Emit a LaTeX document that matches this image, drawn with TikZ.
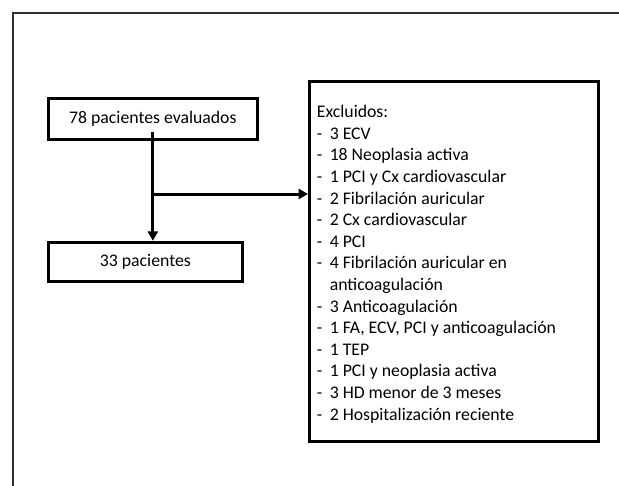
\documentclass[tikz,border=0pt]{standalone}
\usepackage{fontspec}
\setmainfont{Carlito}
\usetikzlibrary{arrows.meta,shadows}

\tikzset{
  flowbox/.style={draw=black,line width=2.25pt,fill=white,inner sep=0pt,
    drop shadow={shadow xshift=1.1pt,shadow yshift=-1.1pt,opacity=0.3,fill=black}},
  conn/.style={line width=2.25pt,-{Triangle[length=7pt,width=7.5pt]}},
}
\newcommand{\itm}[1]{\makebox[9.6pt][l]{-}#1\\}

\begin{document}
\begin{tikzpicture}[x=0.75pt,y=0.75pt,yscale=-1,xscale=1]
\fontsize{13.3}{16.2}\selectfont
\useasboundingbox (0,0) rectangle (619,486);

%Frame lines
\draw [color={rgb, 255:red, 48; green, 48; blue, 48 }][line width=1.5pt] (13.3,486) -- (13.3,12.7) -- (619,12.7) ;

% Boxes
\node [flowbox,minimum width=157pt,minimum height=30.75pt] (eval) at (152.85,118.7) {78 pacientes evaluados};
\node [flowbox,minimum width=145.7pt,minimum height=29.7pt] (incl) at (145.35,262) {33 pacientes};
\node [flowbox,minimum width=216.75pt,minimum height=270pt] (excl) at (454,261.5) {};

% Text Node (base = last line)
\node [anchor=base west,inner sep=0pt,align=left] (excltext) at (316.7,420) {Excluidos:\\
\itm{3 ECV}
\itm{18 Neoplasia activa}
\itm{1 PCI y Cx cardiovascular}
\itm{2 Fibrilación auricular}
\itm{2 Cx cardiovascular}
\itm{4 PCI}
\itm{4 Fibrilación auricular en}
\makebox[9.6pt][l]{}anticoagulación\\
\itm{3 Anticoagulación}
\itm{1 FA, ECV, PCI y anticoagulación}
\itm{1 TEP}
\itm{1 PCI y neoplasia activa}
\itm{3 HD menor de 3 meses}
\makebox[9.6pt][l]{-}2 Hospitalización reciente};

%Arrows
\coordinate (split) at (153,194);
\draw [conn] ([yshift=-6.9pt]eval.south) -- (eval.south |- incl.north) ;
\draw [conn] (split) -- (split -| excl.west) ;
\end{tikzpicture}
\end{document}
